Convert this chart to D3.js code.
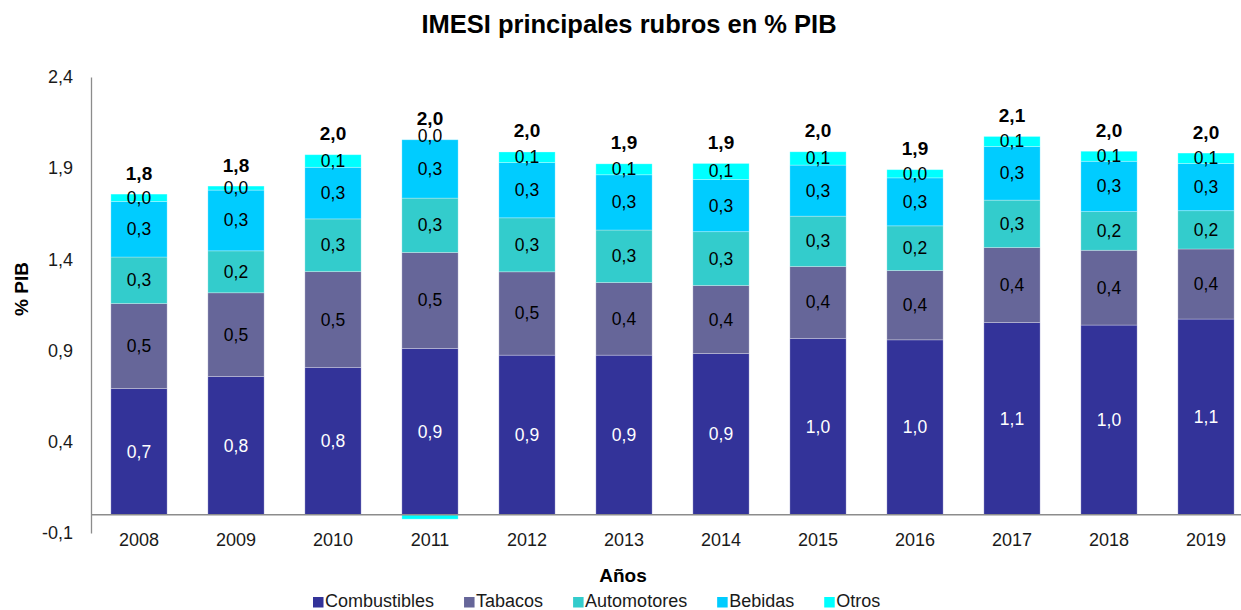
<!DOCTYPE html>
<html>
<head>
<meta charset="utf-8">
<script src="https://cdn.jsdelivr.net/npm/d3@7"></script>
<style>
  html, body { margin: 0; padding: 0; background: #ffffff; }
  svg { display: block; font-family: "Liberation Sans", Arial, sans-serif; }
</style>
</head>
<body>
<svg id="chart" width="1241" height="610"></svg>
<script>
const years = ["2008","2009","2010","2011","2012","2013","2014","2015","2016","2017","2018","2019"];
const seriesNames = ["Combustibles","Tabacos","Automotores","Bebidas","Otros"];
const combustibles = [0.692,0.758,0.808,0.912,0.875,0.875,0.884,0.967,0.959,1.054,1.040,1.073];
const tabacos      = [0.466,0.459,0.525,0.526,0.457,0.398,0.373,0.394,0.380,0.411,0.410,0.384];
const automotores  = [0.255,0.230,0.289,0.298,0.296,0.288,0.295,0.276,0.245,0.260,0.212,0.210];
const bebidas      = [0.305,0.333,0.283,0.320,0.303,0.303,0.286,0.280,0.263,0.294,0.276,0.259];
const otros        = [0.040,0.022,0.069,-0.024,0.058,0.060,0.088,0.073,0.045,0.055,0.055,0.057];
const yTicks = [-0.1,0.4,0.9,1.4,1.9,2.4];
const colors = ["#333399","#666699","#33CCCC","#00CCFF","#00FFFF"];
const labelColors = ["#ffffff","#000000","#000000","#000000","#000000"];

const seriesValues = [combustibles, tabacos, automotores, bebidas, otros];
const table = years.map((yr, i) => {
  const row = { year: yr };
  seriesNames.forEach((s, k) => row[s] = seriesValues[k][i]);
  return row;
});

const fmt = v => (Math.round(v * 10) / 10).toFixed(1).replace(".", ",");
const FONT = '"Liberation Sans", Arial, sans-serif';

const svg = d3.select("#chart");

const y = d3.scaleLinear().domain([-0.1, 2.4]).range([533, 77]);
const x = d3.scaleBand().domain(years).range([90.5, 1254.5]).paddingInner(0.42).paddingOuter(0.21);

const stack = d3.stack().keys(seriesNames).offset(d3.stackOffsetDiverging);
const stacked = stack(table);

// title
svg.append("text")
  .attr("x", 629).attr("y", 33)
  .attr("text-anchor", "middle")
  .attr("font-size", 25.5).attr("font-weight", "bold")
  .attr("fill", "#000")
  .text("IMESI principales rubros en % PIB");

// y axis
const yAxis = d3.axisLeft(y).tickValues(yTicks).tickSize(0).tickPadding(18)
  .tickFormat(d => d3.format(".1f")(d).replace("−", "-").replace(".", ","));
const gy = svg.append("g").attr("transform", "translate(91,0)").call(yAxis);
gy.select(".domain").attr("stroke", "#8c8c8c").attr("stroke-width", 1.3);
gy.selectAll(".tick text").attr("font-size", 18).attr("font-family", FONT).attr("fill", "#1a1a1a");

// y title
svg.append("text")
  .attr("transform", "translate(28,289) rotate(-90)")
  .attr("text-anchor", "middle")
  .attr("font-size", 19).attr("font-weight", "bold")
  .text("% PIB");

// bars
const layers = svg.append("g").selectAll("g.layer")
  .data(stacked).join("g")
  .attr("class", "layer")
  .attr("fill", (d, i) => colors[i]);

layers.selectAll("rect")
  .data(d => d.map(p => ({ p, year: p.data.year })))
  .join("rect")
  .attr("x", d => x(d.year))
  .attr("width", x.bandwidth())
  .attr("y", d => y(Math.max(d.p[0], d.p[1])))
  .attr("height", d => Math.abs(y(d.p[0]) - y(d.p[1])))
  .attr("stroke", "#ffffff").attr("stroke-opacity", 0.35).attr("stroke-width", 0.8);

// x axis line at zero
const xAxis = d3.axisBottom(x).tickSize(0).tickPadding(0);
const gx = svg.append("g").attr("transform", `translate(0,${y(0)})`).call(xAxis);
gx.select(".domain").remove();
gx.append("line").attr("x1", 91).attr("x2", 1241).attr("y1", 0).attr("y2", 0)
  .attr("stroke", "#8c8c8c").attr("stroke-width", 1.3);
gx.selectAll(".tick text")
  .attr("font-size", 18).attr("font-family", FONT).attr("fill", "#1a1a1a")
  .attr("dy", null).attr("y", 31);

// x title
svg.append("text")
  .attr("x", 623).attr("y", 582)
  .attr("text-anchor", "middle")
  .attr("font-size", 19).attr("font-weight", "bold")
  .text("Años");

// positive stack tops
const posTop = years.map((yr, i) => d3.sum(seriesValues, s => Math.max(0, s[i])));

// segment labels
stacked.forEach((layer, k) => {
  svg.append("g").selectAll("text")
    .data(layer)
    .join("text")
    .attr("x", d => x(d.data.year) + x.bandwidth() / 2)
    .attr("y", (d, i) => {
      const v = seriesValues[k][i];
      if (v < 0) return y(posTop[i]) - 4;
      return (y(d[0]) + y(d[1])) / 2;
    })
    .attr("text-anchor", "middle")
    .attr("dominant-baseline", "central")
    .attr("font-size", 17.5)
    .attr("fill", labelColors[k])
    .text((d, i) => fmt(seriesValues[k][i]));
});

// total labels
svg.append("g").selectAll("text")
  .data(years)
  .join("text")
  .attr("x", d => x(d) + x.bandwidth() / 2)
  .attr("y", (d, i) => y(posTop[i]) - 21)
  .attr("text-anchor", "middle")
  .attr("dominant-baseline", "central")
  .attr("font-size", 19).attr("font-weight", "bold")
  .attr("fill", "#000")
  .text((d, i) => fmt(d3.sum(seriesValues, s => s[i])));

// legend
const legend = svg.append("g");
let lx = 313;
seriesNames.forEach((name, k) => {
  legend.append("rect")
    .attr("x", lx).attr("y", 597).attr("width", 10.5).attr("height", 10.5)
    .attr("fill", colors[k]);
  const t = legend.append("text")
    .attr("x", lx + 12).attr("y", 601)
    .attr("dominant-baseline", "central")
    .attr("font-size", 18).attr("fill", "#1a1a1a")
    .text(name);
  lx += 12 + t.node().getComputedTextLength() + 30;
});
</script>
</body>
</html>
